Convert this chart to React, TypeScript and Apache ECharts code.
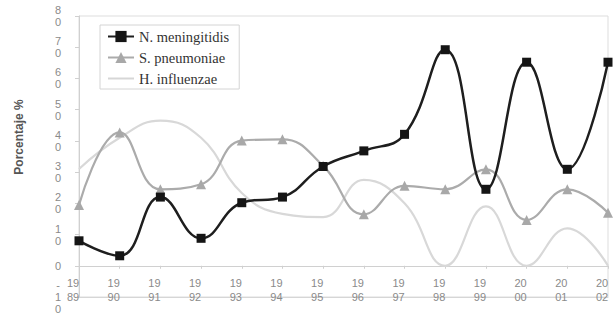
import React, { useEffect, useRef } from "react";
import * as echarts from "echarts";

const years = ["1989", "1990", "1991", "1992", "1993", "1994", "1995", "1996", "1997", "1998", "1999", "2000", "2001", "2002"];
const meningitidis = [8, 3.2, 22, 8.8, 20.2, 22, 31.8, 36.8, 42.1, 69.2, 24.5, 65.2, 30.9, 65.2];
const pneumoniae = [19.5, 42.7, 24.5, 26.1, 40.1, 40.5, 32, 16.5, 25.6, 24.5, 30.9, 14.7, 24.5, 17];
const influenzae = [31, 41, 46.5, 41, 23.3, 16.6, 15.6, 27.5, 20, 0, 19, 0, 12, 0];
const seriesNames = ["N. meningitidis", "S. pneumoniae", "H. influenzae"];
const yMin = -10;
const yMax = 80;
const yStep = 10;

export default function App() {
  const ref = useRef<HTMLDivElement>(null);
  useEffect(() => {
    if (!ref.current) return;
    const chart = echarts.init(ref.current, undefined, { renderer: "svg" });
    chart.setOption({
      animation: false,
      backgroundColor: "#ffffff",
      grid: {
        left: 79,
        right: 7,
        top: 16,
        bottom: 30,
        show: true,
        borderColor: "#dddddd",
        borderWidth: 1,
        outerBoundsMode: "none",
        containLabel: false,
      },
      legend: {
        orient: "vertical",
        left: 100,
        top: 25,
        padding: [4, 10, 3, 7],
        borderColor: "#d4d4d4",
        borderWidth: 1,
        itemWidth: 26,
        itemHeight: 14,
        itemGap: 6,
        textStyle: {
          fontFamily: "Liberation Serif",
          fontSize: 14.5,
          lineHeight: 15,
          color: "#333333",
        },
        data: [
          { name: seriesNames[0] },
          { name: seriesNames[1] },
          { name: seriesNames[2], icon: "path://M0,0L26,0L26,2L0,2Z" },
        ],
      },
      graphic: [
        {
          type: "text",
          x: 19,
          y: 137,
          rotation: Math.PI / 2,
          style: {
            text: "Porcentaje %",
            font: "bold 12px 'Liberation Sans', Arial, sans-serif",
            fill: "#555555",
            align: "center",
            verticalAlign: "middle",
          },
        },
      ],
      xAxis: [
        {
          type: "category",
          data: years,
          boundaryGap: false,
          position: "bottom",
          axisLine: { onZero: false, lineStyle: { color: "#d6d6d6", width: 1 } },
          axisTick: { show: false },
          axisLabel: {
            formatter: (v: string) => v.slice(0, 2) + "\n" + v.slice(2),
            color: "#8a8a8a",
            fontFamily: "Liberation Sans",
            fontSize: 11,
            lineHeight: 14,
            verticalAlign: "bottom",
            margin: 7,
            padding: [0, 12, 0, 0],
            interval: 0,
            showMinLabel: true,
            showMaxLabel: true,
          },
          splitLine: { show: false },
        },
        {
          type: "category",
          data: years,
          boundaryGap: false,
          position: "bottom",
          axisLine: { onZero: true, lineStyle: { color: "#d0d0d0", width: 1 } },
          axisTick: { show: true, length: 3, interval: 0, lineStyle: { color: "#d0d0d0" } },
          axisLabel: { show: false },
          splitLine: { show: false },
        },
      ],
      yAxis: {
        type: "value",
        min: yMin,
        max: yMax,
        interval: yStep,
        axisLine: { show: true, lineStyle: { color: "#d0d0d0" } },
        axisTick: { show: true, length: 4, lineStyle: { color: "#d0d0d0" } },
        splitLine: { show: false },
        axisLabel: {
          formatter: (v: number) => String(v).split("").join("\n"),
          color: "#8a8a8a",
          fontFamily: "Liberation Sans",
          fontSize: 11,
          lineHeight: 12,
          align: "center",
          padding: [6, 0, 0, 0],
          margin: 21,
          showMinLabel: true,
          showMaxLabel: true,
          hideOverlap: false,
        },
      },
      series: [
        {
          name: seriesNames[0],
          type: "line",
          data: meningitidis,
          smooth: 0.45,
          symbol: "rect",
          symbolSize: 9,
          itemStyle: { color: "#151515" },
          lineStyle: { color: "#1e1e1e", width: 2.5 },
          z: 5,
        },
        {
          name: seriesNames[1],
          type: "line",
          data: pneumoniae,
          smooth: 0.45,
          symbol: "triangle",
          symbolSize: 10,
          itemStyle: { color: "#a8a8a8" },
          lineStyle: { color: "#ababab", width: 2.2 },
          z: 4,
        },
        {
          name: seriesNames[2],
          type: "line",
          data: influenzae,
          smooth: 0.45,
          symbol: "none",
          itemStyle: { color: "#d6d6d6" },
          lineStyle: { color: "#d8d8d8", width: 2.2 },
          z: 3,
        },
      ],
    });
    return () => chart.dispose();
  }, []);
  return <div ref={ref} style={{ width: 615, height: 327, position: "absolute", left: 0, top: 0 }} />;
}
